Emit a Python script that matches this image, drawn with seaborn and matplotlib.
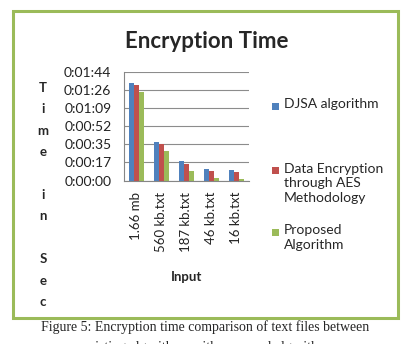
import numpy as np
import pandas as pd
import matplotlib
matplotlib.use("Agg")
import matplotlib.pyplot as plt
from matplotlib.patches import Rectangle
import seaborn as sns

categories = ["1.66 mb", "560 kb.txt", "187 kb.txt", "46 kb.txt", "16 kb.txt"]
series_names = ["DJSA algorithm", "Data Encryption\nthrough AES\nMethodology", "Proposed\nAlgorithm"]
djsa_sec = [93.6, 37.2, 18.3, 11.0, 10.4]
aes_sec = [91.4, 34.7, 16.1, 9.1, 8.5]
proposed_sec = [84.8, 28.7, 8.8, 2.8, 1.9]
ytick_sec = [0, 17.33, 34.67, 52, 69.33, 86.67, 104]
ytick_labels = ["0:00:00", "0:00:17", "0:00:35", "0:00:52", "0:01:09", "0:01:26", "0:01:44"]
colors = ["#4F81BD", "#C0504D", "#9BBB59"]
ylabel_letters = ["T", "i", "m", "e", "", "i", "n", "", "S", "e", "c"]
title = "Encryption Time"
xlabel = "Input"
caption1 = "Figure 5: Encryption time comparison of text files between"
caption2 = "existing algorithms with proposed algorithm"

sns.set_style("white")
plt.rcParams["font.family"] = ["Lato", "DejaVu Sans"]

W, H = 402, 344
fig = plt.figure(figsize=(W / 100, H / 100), dpi=100)


def px(x, y):
    return x / W, 1 - y / H


rows = []
for name, vals in zip(series_names, [djsa_sec, aes_sec, proposed_sec]):
    for c, v in zip(categories, vals):
        rows.append({"Input": c, "Seconds": v, "Series": name})
df = pd.DataFrame(rows)

ax_l, ax_r, ax_t, ax_b = 124, 249, 72, 180.5
ax = fig.add_axes([ax_l / W, 1 - ax_b / H, (ax_r - ax_l) / W, (ax_b - ax_t) / H])
sns.barplot(data=df, x="Input", y="Seconds", hue="Series", order=categories,
            hue_order=series_names, palette=colors, width=0.6, saturation=1,
            legend=False, ax=ax, linewidth=0)

ax.set_ylim(0, 104)
ax.set_xlim(-0.5, len(categories) - 0.5)
ax.set_yticks(ytick_sec)
ax.set_yticklabels(ytick_labels, fontsize=10, color="#222222")
ax.set_xticks(range(len(categories)))
ax.set_xticklabels(categories, rotation=90, fontsize=9.5, color="#222222")
ax.set_xticks(np.arange(-0.5, len(categories)), minor=True)
ax.tick_params(axis="x", which="major", length=0, pad=8)
ax.tick_params(axis="x", which="minor", length=5, color="#868686", width=0.8, direction="out")
ax.tick_params(axis="y", length=6, color="#868686", width=0.8, direction="out", pad=3)
ax.grid(axis="y", color="#8C8C8C", linewidth=0.8)
ax.set_axisbelow(True)
for s in ["top", "right"]:
    ax.spines[s].set_visible(False)
for s in ["left", "bottom"]:
    ax.spines[s].set_color("#868686")
    ax.spines[s].set_linewidth(0.8)
ax.set_xlabel("")
ax.set_ylabel("")

# title, axis label
fig.text(*px(207, 41), title, fontsize=16, fontweight="bold", ha="center", va="center")
fig.text(*px(186.5, 277), xlabel, fontsize=9.5, fontweight="bold", ha="center", va="center")
for i, letter in enumerate(ylabel_letters):
    if letter:
        fig.text(*px(43, 88 + 21.4 * i), letter, fontsize=9.5, fontweight="bold",
                 ha="center", va="center")

# legend
leg_y = [107, 171, 233]
for name, col, y in zip(series_names, colors, leg_y):
    fig.patches.append(Rectangle(px(272, y + 3), 7 / W, 7 / H, transform=fig.transFigure,
                                 facecolor=col, edgecolor="none"))
    fig.text(*px(284, y - 8.5), name, fontsize=10, ha="left", va="top", linespacing=1.25)

# frame
fig.patches.append(Rectangle(px(13.5, 317.5), (398.5 - 13.5) / W, (317.5 - 10.5) / H,
                             transform=fig.transFigure, facecolor="none",
                             edgecolor="#9BBB59", linewidth=2.2))

# caption
fig.text(*px(205, 327), caption1, fontsize=10, family="Liberation Serif",
         ha="center", va="center")
fig.text(*px(205, 347), caption2, fontsize=10, family="Liberation Serif",
         ha="center", va="center")

fig.savefig("out.png", dpi=100)
